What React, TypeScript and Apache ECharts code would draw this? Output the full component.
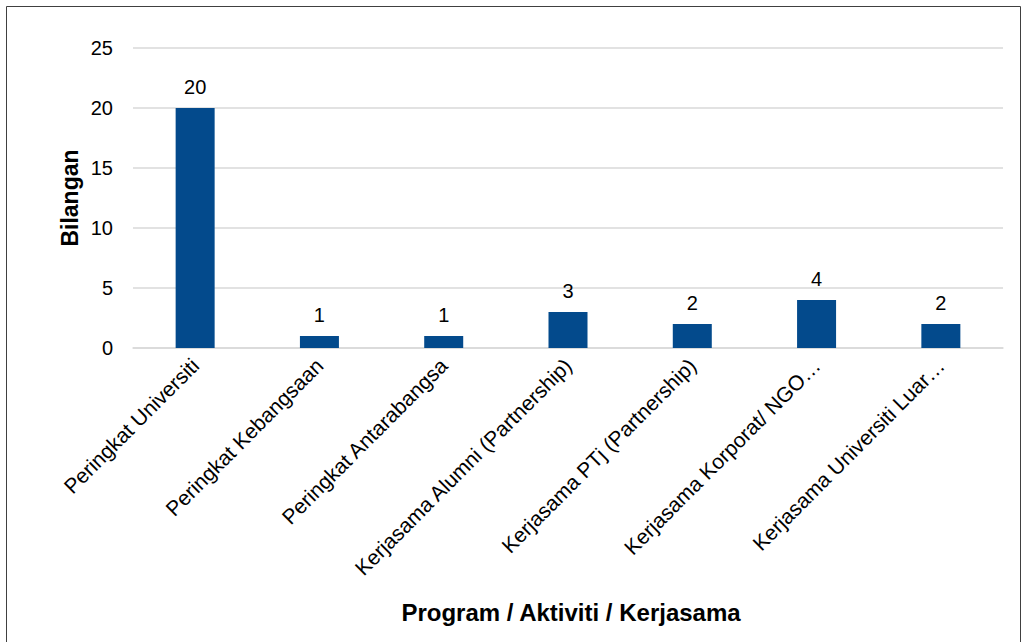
import React, { useEffect, useRef } from "react";
import * as echarts from "echarts";

const categories = [
  "Peringkat Universiti",
  "Peringkat Kebangsaan",
  "Peringkat Antarabangsa",
  "Kerjasama Alumni (Partnership)",
  "Kerjasama PTj (Partnership)",
  "Kerjasama Korporat/ NGO…",
  "Kerjasama Universiti Luar…",
];
const values = [20, 1, 1, 3, 2, 4, 2];
const yTicks = [0, 5, 10, 15, 20, 25];
const xAxisTitle = "Program / Aktiviti / Kerjasama";
const yAxisTitle = "Bilangan";

const FONT = "'Liberation Sans', Arial, Helvetica, sans-serif";

export default function App() {
  const ref = useRef<HTMLDivElement>(null);
  useEffect(() => {
    if (!ref.current) return;
    const chart = echarts.init(ref.current, undefined, { renderer: "svg" });
    chart.setOption({
      animation: false,
      backgroundColor: "#ffffff",
      textStyle: { fontFamily: FONT },
      grid: { left: 133, right: 19, top: 48, bottom: 294, containLabel: false },
      graphic: [
        {
          type: "rect",
          shape: { x: 6.5, y: 6.5, width: 1014, height: 700 },
          style: { fill: "none", stroke: "#404040", lineWidth: 1 },
          silent: true,
        },
        {
          type: "text",
          x: 571,
          y: 612,
          style: {
            text: xAxisTitle,
            font: `bold 24px ${FONT}`,
            fill: "#000",
            align: "center",
            verticalAlign: "middle",
          },
        },
        {
          type: "text",
          x: 70,
          y: 198,
          rotation: Math.PI / 2,
          style: {
            text: yAxisTitle,
            font: `bold 23px ${FONT}`,
            fill: "#000",
            align: "center",
            verticalAlign: "middle",
          },
        },
      ],
      xAxis: {
        type: "category",
        data: categories,
        axisLine: { show: true, lineStyle: { color: "#d9d9d9", width: 1.5 } },
        axisTick: { show: false },
        axisLabel: {
          rotate: 45,
          interval: 0,
          margin: 14,
          color: "#000",
          fontSize: 21,
          fontFamily: FONT,
        },
      },
      yAxis: {
        type: "value",
        min: yTicks[0],
        max: yTicks[yTicks.length - 1],
        interval: 5,
        axisLine: { show: false },
        axisTick: { show: false },
        axisLabel: { color: "#000", fontSize: 20, fontFamily: FONT, margin: 20 },
        splitLine: { lineStyle: { color: "#d9d9d9", width: 1.5 } },
      },
      series: [
        {
          type: "bar",
          data: values,
          barWidth: 39,
          itemStyle: { color: "#034a8c" },
          label: {
            show: true,
            position: "top",
            distance: 11,
            color: "#000",
            fontSize: 20,
            fontFamily: FONT,
          },
        },
      ],
    });
    return () => chart.dispose();
  }, []);
  return (
    <div
      ref={ref}
      style={{ position: "fixed", left: 0, top: 0, width: 1022, height: 642 }}
    />
  );
}
